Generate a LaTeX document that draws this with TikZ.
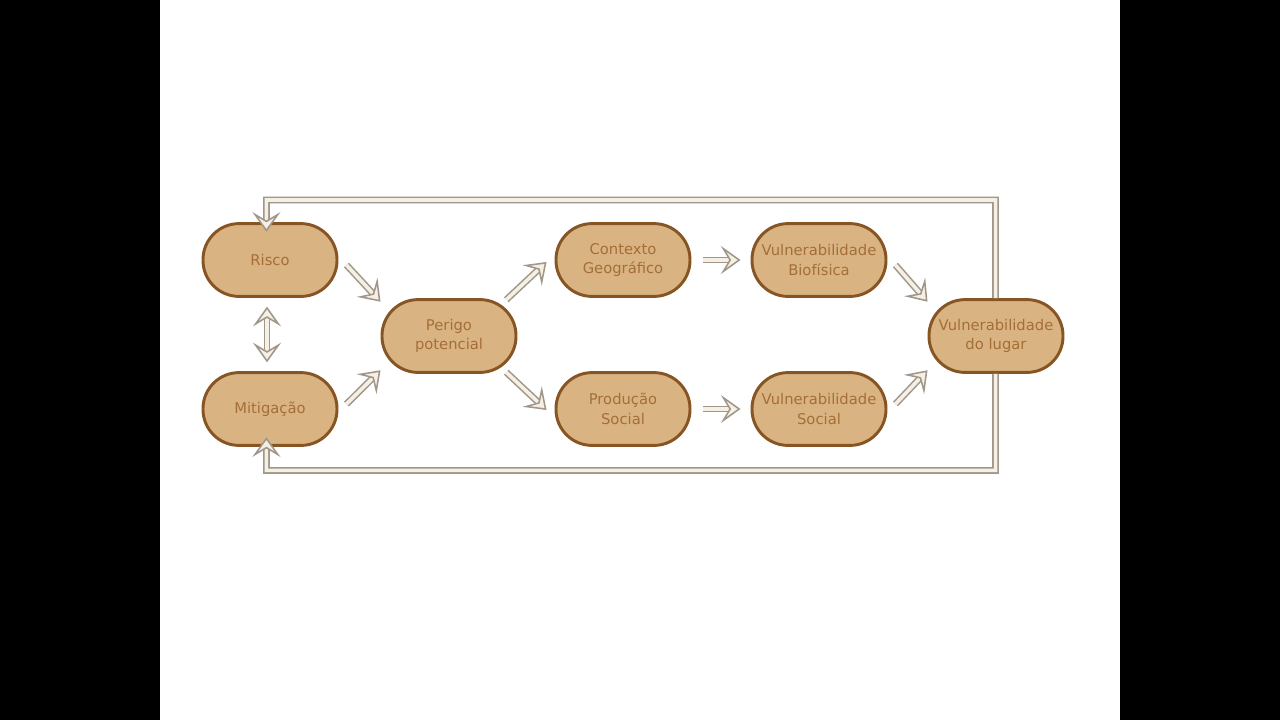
\documentclass[tikz,border=0pt]{standalone}
\usepackage{fontspec}
\setmainfont{DejaVu Sans}
\usepackage{xcolor}
\usetikzlibrary{arrows.meta,positioning,calc}

\definecolor{boxfill}{RGB}{217,180,130}
\definecolor{boxline}{RGB}{135,85,35}
\definecolor{boxtext}{RGB}{165,110,55}
\definecolor{arrline}{RGB}{160,150,138}
\definecolor{arrfill}{RGB}{246,239,227}

\begin{document}
\begin{tikzpicture}[
  stage/.style={draw=boxline, fill=boxfill, line width=2.1pt, rounded corners=0.9cm,
    minimum width=3.35cm, minimum height=1.82cm, align=center, text=boxtext,
    font=\fontsize{10.5}{14}\selectfont},
  head/.tip={Stealth[open, fill=arrfill, length=14pt, width=20pt, inset=6pt, line width=1.1pt]},
  flow/.style={draw=arrline, line width=1.1pt, double=arrfill, double distance=2.6pt, -head},
  loopflow/.style={flow, rounded corners=0pt}
]
\useasboundingbox (0,0) rectangle (32,-18);
\fill[black] (0,0) rectangle (32,-18);
\fill[white] (4,0) rectangle (28,-18);

% the stages
\node[stage] (ri) at (6.75,-6.5) {Risco};
\node[stage] (mi) at (6.75,-10.225) {Mitigação};
\node[stage] (pp) at (11.225,-8.4) {Perigo\\potencial};
\node[stage] (cg) at (15.575,-6.5) {Contexto\\Geográfico};
\node[stage] (ps) at (15.575,-10.225) {Produção\\Social};
\node[stage] (vb) at (20.475,-6.5) {Vulnerabilidade\\Biofísica};
\node[stage] (vs) at (20.475,-10.225) {Vulnerabilidade\\Social};
\node[stage] (vl) at (24.9,-8.4) {Vulnerabilidade\\do lugar};

% arrows between stages
\draw[flow] ([shift={(0.2,-0.125)}]ri.east) -- ([yshift=-0.09cm]pp.north west);
\draw[flow] ([shift={(0.2,0.125)}]mi.east) -- ([yshift=0.09cm]pp.south west);
\draw[flow] ([shift={(-0.28,-0.04)}]pp.north east) -- ([shift={(-0.2,-0.05)}]cg.west);
\draw[flow] ([shift={(-0.28,0.04)}]pp.south east) -- ([shift={(-0.2,-0.025)}]ps.west);
\draw[flow, shorten <=0.3cm, shorten >=0.25cm] (cg) -- (vb);
\draw[flow, shorten <=0.3cm, shorten >=0.25cm] (ps) -- (vs);
\draw[flow] ([shift={(0.2,-0.125)}]vb.east) -- ([yshift=-0.09cm]vl.north west);
\draw[flow] ([shift={(0.2,0.125)}]vs.east) -- ([yshift=0.09cm]vl.south west);
\draw[flow, head-head, shorten <=0.22cm, shorten >=0.22cm]
  ([xshift=-0.075cm]ri.south) -- ([xshift=-0.075cm]mi.north);

% feedback loop
\coordinate (topleft) at (6.66,-5.0);
\coordinate (botleft) at (6.66,-11.76);
\draw[loopflow] ([xshift=-0.01cm]vl.north) |- (topleft) -- ([xshift=-0.09cm,yshift=-0.24cm]ri.north);
\draw[loopflow] ([xshift=-0.01cm]vl.south) |- (botleft) -- ([xshift=-0.09cm,yshift=0.24cm]mi.south);
\end{tikzpicture}
\end{document}
